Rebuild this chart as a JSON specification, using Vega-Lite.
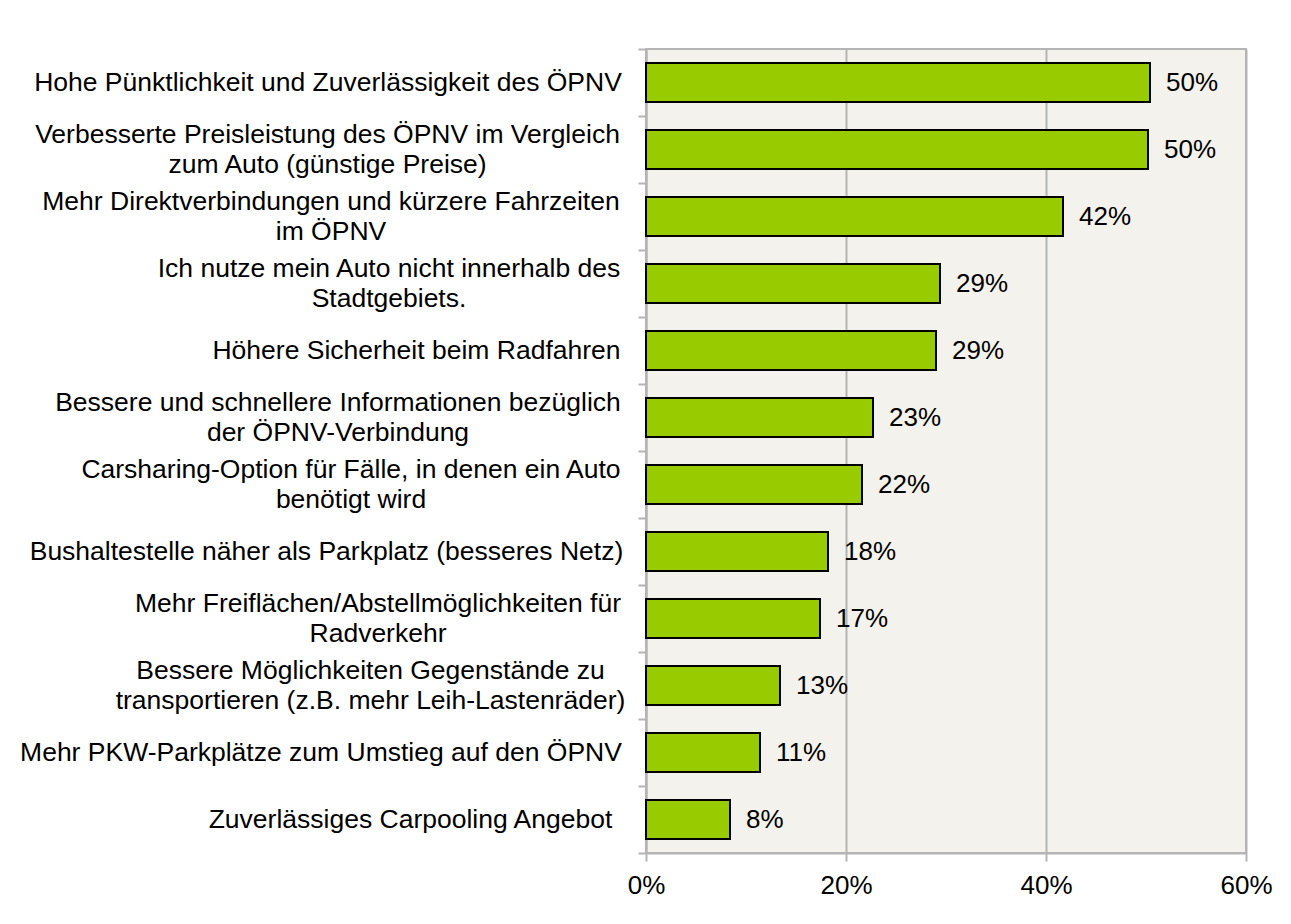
{
  "$schema": "https://vega.github.io/schema/vega-lite/v6.json",
  "width": 600,
  "height": 804,
  "autosize": "none",
  "padding": {"left": 646, "top": 49, "right": 45, "bottom": 71},
  "background": "white",
  "config": {
    "font": "Liberation Sans",
    "view": {"stroke": "#B4B4B4", "strokeWidth": 2, "fill": "#F3F2EC"}
  },
  "data": {
    "values": [
      {"cat": "Hohe Pünktlichkeit und Zuverlässigkeit des ÖPNV", "value": 0.504},
      {"cat": "Verbesserte Preisleistung des ÖPNV im Vergleich|zum Auto (günstige Preise)", "value": 0.502},
      {"cat": "Mehr Direktverbindungen und kürzere Fahrzeiten|im ÖPNV", "value": 0.417},
      {"cat": "Ich nutze mein Auto nicht innerhalb des|Stadtgebiets.", "value": 0.294},
      {"cat": "Höhere Sicherheit beim Radfahren", "value": 0.29},
      {"cat": "Bessere und schnellere Informationen bezüglich|der ÖPNV-Verbindung", "value": 0.227},
      {"cat": "Carsharing-Option für Fälle, in denen ein Auto|benötigt wird", "value": 0.216},
      {"cat": "Bushaltestelle näher als Parkplatz (besseres Netz)", "value": 0.182},
      {"cat": "Mehr Freiflächen/Abstellmöglichkeiten für|Radverkehr", "value": 0.174},
      {"cat": "Bessere Möglichkeiten Gegenstände zu|transportieren (z.B. mehr Leih-Lastenräder)", "value": 0.134},
      {"cat": "Mehr PKW-Parkplätze zum Umstieg auf den ÖPNV", "value": 0.114},
      {"cat": "Zuverlässiges Carpooling Angebot", "value": 0.084}
    ]
  },
  "layer": [
    {
      "mark": {"type": "rule", "opacity": 0},
      "encoding": {
        "y": {
          "datum": 0,
          "type": "quantitative",
          "scale": {"domain": [0, 12], "nice": false, "zero": false},
          "axis": {
            "orient": "left",
            "values": [0, 1, 2, 3, 4, 5, 6, 7, 8, 9, 10, 11, 12],
            "labels": false,
            "ticks": true,
            "tickSize": 8,
            "tickColor": "#B4B4B4",
            "tickWidth": 2,
            "domain": true,
            "domainColor": "#B4B4B4",
            "domainWidth": 2,
            "grid": false,
            "title": null
          }
        }
      }
    },
    {
      "layer": [
        {
          "mark": {"type": "bar", "fill": "#99CC00", "stroke": "#000000", "strokeWidth": 2},
          "encoding": {
            "y": {
              "field": "cat",
              "type": "nominal",
              "sort": null,
              "scale": {"paddingInner": 0.42, "paddingOuter": 0.21},
              "axis": {
                "orient": "left",
                "title": null,
                "ticks": false,
                "domain": false,
                "grid": false,
                "labelExpr": "split(datum.label, '|')",
                "labelFontSize": 26.5,
                "labelColor": "#000000",
                "labelLimit": 2000,
                "labelLineHeight": 30,
                "labelAlign": "center",
                "labelBaseline": "middle",
                "labelOffset": {"expr": "indexof(datum.value,'|')>=0?-15:0"},
                "labelPadding": {"expr": "indexof(datum.value,'Hohe')==0?318.5:indexof(datum.value,'Verbesserte')==0?319:indexof(datum.value,'Mehr Direkt')==0?315.5:indexof(datum.value,'Ich nutze')==0?257.5:indexof(datum.value,'Höhere')==0?230:indexof(datum.value,'Bessere und')==0?308.5:indexof(datum.value,'Carsharing')==0?295.5:indexof(datum.value,'Bushalte')==0?320:indexof(datum.value,'Mehr Frei')==0?268.5:indexof(datum.value,'Bessere Mög')==0?276:indexof(datum.value,'Mehr PKW')==0?325.5:236"}
              }
            },
            "x": {
              "field": "value",
              "type": "quantitative",
              "scale": {"domain": [0, 0.6], "nice": false},
              "axis": {
                "title": null,
                "values": [0, 0.2, 0.4, 0.6],
                "format": ".0%",
                "labelFontSize": 26,
                "labelColor": "#000000",
                "labelFlush": false,
                "labelPadding": 11,
                "tickSize": 8,
                "tickColor": "#B4B4B4",
                "tickWidth": 2,
                "domainColor": "#B4B4B4",
                "domainWidth": 2,
                "grid": true,
                "gridColor": "#B4B4B4",
                "gridWidth": 2
              }
            }
          }
        },
        {
          "mark": {"type": "text", "align": "left", "baseline": "middle", "dx": 16, "fontSize": 26, "color": "#000000"},
          "encoding": {
            "y": {"field": "cat", "type": "nominal", "sort": null},
            "x": {"field": "value", "type": "quantitative"},
            "text": {"field": "value", "type": "quantitative", "format": ".0%"}
          }
        }
      ]
    }
  ],
  "resolve": {"scale": {"y": "independent"}, "axis": {"y": "independent"}}
}
